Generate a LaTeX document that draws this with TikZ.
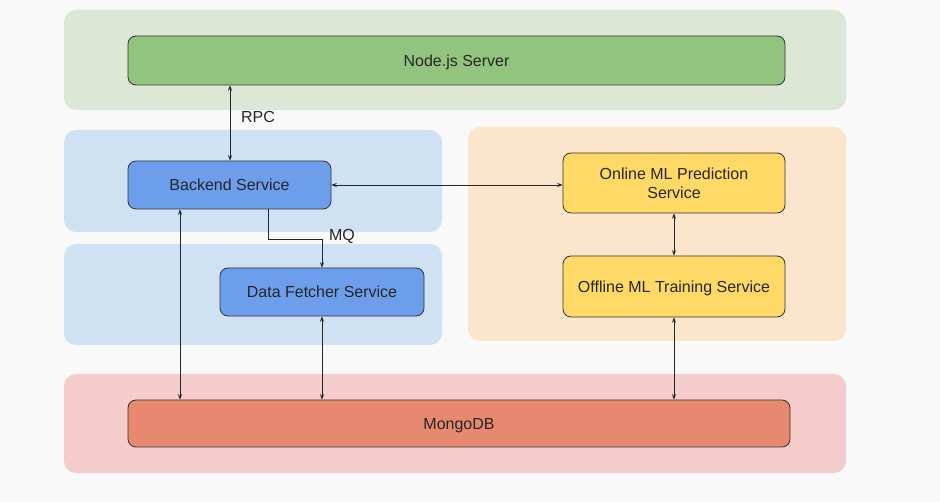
\documentclass[tikz,border=0pt]{standalone}
\usepackage{fontspec}
\setmainfont{Liberation Sans}
\usetikzlibrary{arrows.meta}
\definecolor{pagebg}{HTML}{F9F9F9}
\definecolor{greenbg}{HTML}{DCE8D5}
\definecolor{greenfill}{HTML}{93C47D}
\definecolor{bluebg}{HTML}{CFE2F3}
\definecolor{bluefill}{HTML}{6D9EEB}
\definecolor{orangebg}{HTML}{FCE5CD}
\definecolor{yellowfill}{HTML}{FFD966}
\definecolor{redbg}{HTML}{F4CCCC}
\definecolor{redfill}{HTML}{E6896F}
\definecolor{edge}{HTML}{333333}
\begin{document}
\begin{tikzpicture}[x=0.75pt,y=-0.75pt,
  group/.style={rounded corners=9pt, draw=none},
  svc/.style={draw=edge, line width=0.6pt, rounded corners=6pt, align=center,
    font=\fontsize{12}{14}\selectfont, text=black!85, text depth=0pt},
  link/.style={draw=black!85, line width=0.5pt, {Stealth[length=4pt,width=3pt]}-{Stealth[length=4pt,width=3pt]}},
  onelink/.style={draw=black!85, line width=0.5pt, -{Stealth[length=4pt,width=3pt]}},
  lbl/.style={font=\fontsize{12}{14}\selectfont, text=black!85}]
\fill[pagebg] (0,0) rectangle (940,502);
\useasboundingbox (0,0) rectangle (940,502);
% groups
\fill[group, greenbg] (64,10) rectangle (846,110);
\fill[group, bluebg] (64,130) rectangle (442,232);
\fill[group, bluebg] (64,244) rectangle (442,345);
\fill[group, orangebg] (468,127) rectangle (846,341);
\fill[group, redbg] (64,374) rectangle (846,473);
% services
\node[svc, fill=greenfill, minimum width=657*0.75pt, minimum height=49*0.75pt] (node) at (456.5,60.5) {Node.js Server};
\node[svc, fill=bluefill, minimum width=203*0.75pt, minimum height=48*0.75pt] (backend) at (229.5,185) {Backend Service};
\node[svc, fill=bluefill, minimum width=204*0.75pt, minimum height=48*0.75pt] (fetcher) at (322,292) {Data Fetcher Service};
\node[svc, fill=yellowfill, minimum width=222*0.75pt, minimum height=60*0.75pt] (online) at (674,183) {Online ML Prediction\\Service};
\node[svc, fill=yellowfill, minimum width=222*0.75pt, minimum height=61*0.75pt] (offline) at (674,286.5) {Offline ML Training Service};
\node[svc, fill=redfill, minimum width=662*0.75pt, minimum height=47*0.75pt] (mongo) at (459,423.5) {MongoDB};
% connectors
\coordinate (rpcA) at (230,0);
\draw[link] (node.south -| rpcA) -- (backend.north -| rpcA);
\node[lbl] (rpc) at (258,117) {RPC};
\draw[link] (backend.east) -- (online.west |- backend.east);
\coordinate (mqA) at (268,0);
\coordinate (mqB) at (268,239);
\draw[onelink] (backend.south -| mqA) -- (mqB) -| (fetcher.north);
\node[lbl] (mq) at (342,236) {MQ};
\coordinate (bmA) at (180,0);
\draw[link] (backend.south -| bmA) -- (mongo.north -| bmA);
\draw[link] (fetcher.south) -- (mongo.north -| fetcher.south);
\draw[link] (online.south) -- (offline.north);
\draw[link] (offline.south) -- (mongo.north -| offline.south);
\end{tikzpicture}
\end{document}
